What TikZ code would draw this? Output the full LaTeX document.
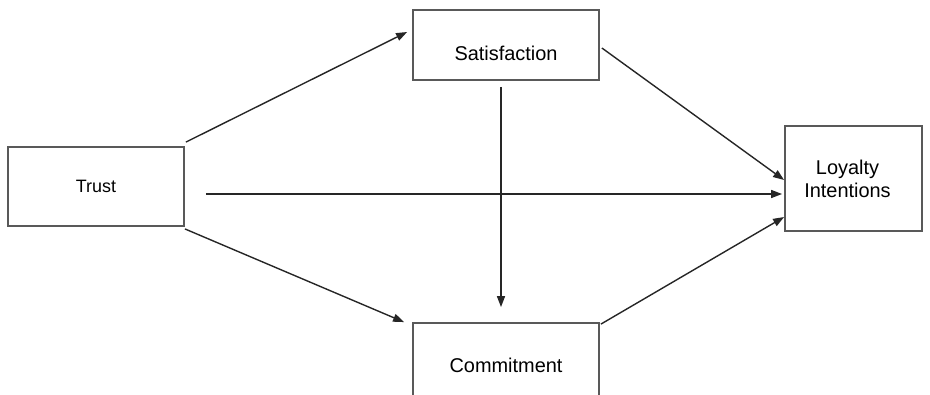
\documentclass[tikz,border=0pt]{standalone}
\usepackage{fontspec}
\setmainfont{Liberation Sans}
\usetikzlibrary{arrows.meta}
\begin{document}
\begin{tikzpicture}[x=1bp,y=-1bp,
		box/.style={draw=black!65, line width=1.8bp, rectangle, inner sep=0pt, font=\fontsize{20}{23}\selectfont},
		link/.style={draw=black!85, line width=1.4bp, -{Triangle[length=11bp,width=8bp]}}]
		\useasboundingbox (0,0) rectangle (930,394);
		\clip (0,0) rectangle (930,394);

		\node[box, minimum width=176bp, minimum height=79bp, font=\fontsize{18}{21}\selectfont] (trust) at (96,186.5) {Trust};
		\node[box, minimum width=186bp, minimum height=70bp, text height=30bp, text depth=0bp] (sat) at (506,45) {Satisfaction};
		\node[box, minimum width=186bp, minimum height=84bp] (comm) at (506,365) {Commitment};
		\node[box, minimum width=137bp, minimum height=105bp, align=center] (loyal) at (853.5,178.5) {\hspace*{-12bp}Loyalty\\\hspace*{-12bp}Intentions};

		\draw[link] ([shift={(1,-4)}]trust.north east) -- ([shift={(-5,-13)}]sat.west);
		\draw[link] ([shift={(21,7.5)}]trust.east) -- ([shift={(-2,15.5)}]loyal.west);
		\draw[link] ([shift={(0,2)}]trust.south east) -- ([shift={(-8,0)}]comm.north west);
		\draw[link] ([shift={(-5,6)}]sat.south) -- ([shift={(-5,-15)}]comm.north);
		\draw[link] ([shift={(2,3)}]sat.east) -- ([shift={(0,1.5)}]loyal.west);
		\draw[link] ([shift={(1,2)}]comm.north east) -- ([shift={(0,38.5)}]loyal.west);
\end{tikzpicture}
\end{document}
